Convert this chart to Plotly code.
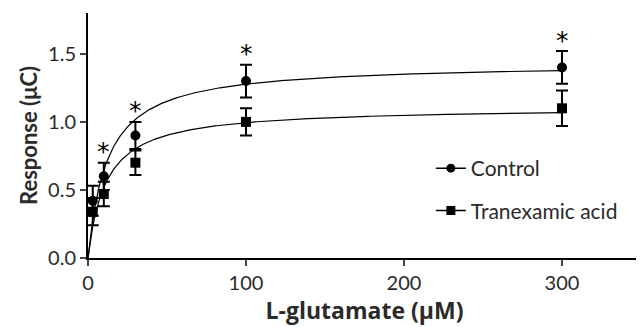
import numpy as np
import plotly.graph_objects as go

# Data
glutamate = [3, 10, 30, 100, 300]
control = [0.42, 0.60, 0.90, 1.30, 1.40]
control_err = [0.11, 0.10, 0.10, 0.12, 0.12]
tranexamic = [0.34, 0.47, 0.70, 1.00, 1.10]
tranexamic_err = [0.10, 0.09, 0.09, 0.10, 0.13]
star_x = [10, 30, 100, 300]
# Michaelis-Menten fit parameters (Vmax, Km)
control_fit = (1.433, 12.2)
tranexamic_fit = (1.108, 11.4)

x_ticks = [0, 100, 200, 300]
y_ticks = [0.0, 0.5, 1.0, 1.5]
y_tick_labels = ["0.0", "0.5", "1.0", "1.5"]

FONT = "Lato"
TXT = "#2a2a2a"
fig = go.Figure()

xs = np.linspace(0, 300, 400)
for vm, km in (control_fit, tranexamic_fit):
    fig.add_trace(go.Scatter(x=xs, y=vm * xs / (km + xs), mode="lines",
                             line=dict(color="black", width=1.2),
                             showlegend=False, hoverinfo="skip"))

for ys, err, sym in ((control, control_err, "circle"),
                     (tranexamic, tranexamic_err, "square")):
    fig.add_trace(go.Scatter(x=glutamate, y=ys, mode="markers",
                             marker=dict(symbol=sym, size=10, color="black"),
                             error_y=dict(type="data", array=err, color="black",
                                          thickness=2, width=6),
                             showlegend=False))

for name, sym, grp in (("Control", "circle", "a"), ("Tranexamic acid", "square", "b")):
    fig.add_trace(go.Scatter(x=[None], y=[None], mode="lines+markers", name=name,
                             legendgroup=grp,
                             marker=dict(symbol=sym, size=9, color="black"),
                             line=dict(color="black", width=1.5)))

for sx in star_x:
    i = glutamate.index(sx)
    fig.add_annotation(x=sx, y=control[i] + control_err[i], text="*",
                       showarrow=False, yshift=11,
                       font=dict(family="DejaVu Sans", size=25, color="black"))

# the page body adds an 8px offset, so the figure is sized to fit the window
fig.update_layout(
    width=636, height=319,
    margin=dict(l=80, r=3, t=5, b=69, autoexpand=False),
    paper_bgcolor="white", plot_bgcolor="white",
    font=dict(family=FONT, color=TXT, size=20),
    legend=dict(x=0.62, y=0.449, xanchor="left", yanchor="top",
                traceorder="grouped", tracegroupgap=12,
                font=dict(family=FONT, size=21, color=TXT),
                bgcolor="rgba(0,0,0,0)"),
    xaxis=dict(range=[0, 350], tickvals=x_ticks, ticks="outside", ticklen=6,
               tickwidth=2, showline=True, linewidth=2, linecolor="black",
               showgrid=False, zeroline=False, automargin=False,
               tickfont=dict(family=FONT, size=20, color=TXT),
               title=dict(text="<b>L-glutamate (μM)</b>",
                          font=dict(family="Open Sans", size=23, color=TXT),
                          standoff=6)),
    yaxis=dict(range=[0, 1.8], tickvals=y_ticks, ticktext=y_tick_labels,
               ticks="outside", ticklen=6, tickwidth=2, showline=True,
               linewidth=2, linecolor="black", showgrid=False, zeroline=False,
               automargin=False,
               tickfont=dict(family=FONT, size=20, color=TXT),
               title=dict(text="<b>Response (μC)</b>",
                          font=dict(family=FONT, size=22, color=TXT),
                          standoff=4)),
)

fig.write_html("out.html")
